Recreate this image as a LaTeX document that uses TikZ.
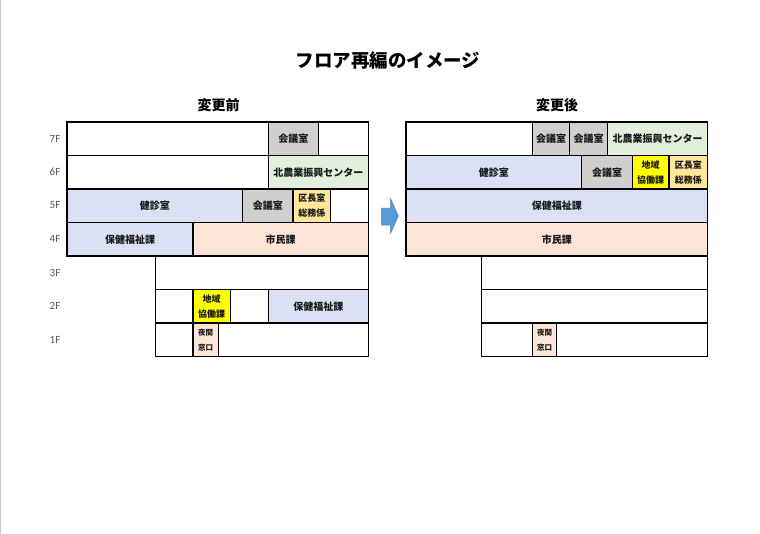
\documentclass[tikz,border=0pt]{standalone}
\usepackage{fontspec}
\newfontfamily\jp{Noto Sans CJK JP}
\newfontfamily\flr{Carlito}
\definecolor{cgray}{HTML}{D0CECE}
\definecolor{cgreen}{HTML}{E2EFDA}
\definecolor{cblue}{HTML}{D9E1F2}
\definecolor{corange}{HTML}{FFE699}
\definecolor{cpink}{HTML}{FCE4D6}
\definecolor{cyellow}{HTML}{FFFF00}
\definecolor{arrowfill}{HTML}{5B9BD5}
\definecolor{arrowline}{HTML}{4A86C0}
\definecolor{floorgray}{HTML}{595959}
\newcommand\fcell[7]{%
  \pgfmathsetmacro\cw{#4-#2}\pgfmathsetmacro\ch{#5-#3}%
  \node[cell,#6,minimum width=\cw pt,minimum height=\ch pt] (#1) at (#2,#3) {#7};}
\begin{document}
\begin{tikzpicture}[x=1pt,y=-1pt,
  cell/.style={draw=black,line width=1.2pt,anchor=north west,inner sep=0pt,outer sep=0pt,
    align=center,font=\jp\bfseries\fontsize{10}{12}\selectfont,text=black!90},
  wcell/.style={fill=white},
  gcell/.style={fill=cgray},
  grcell/.style={fill=cgreen},
  bcell/.style={fill=cblue},
  ocell/.style={fill=corange,font=\jp\bfseries\fontsize{9}{15}\selectfont},
  ycell/.style={fill=cyellow,font=\jp\bfseries\fontsize{9}{15}\selectfont},
  pcell/.style={fill=cpink},
  ncell/.style={fill=cpink,font=\jp\bfseries\fontsize{7.5}{15}\selectfont},
  floor/.style={font=\flr\fontsize{11}{13}\selectfont,text=floorgray},
  heading/.style={font=\jp\bfseries\fontsize{14}{16}\selectfont},
  title/.style={font=\jp\bfseries\fontsize{18.5}{21}\selectfont}]
\useasboundingbox (0,0) rectangle (760,534);
\fill[white] (0,0) rectangle (760,534);
\draw[gray!45,line width=1pt] (0.8,0) -- (0.8,534);
% titles
\node[title] (ttl) at (388,61) {フロア再編のイメージ};
\node[heading] (hbefore) at (218.7,105.5) {変更前};
\node[heading] (hafter) at (557,105.5) {変更後};
% floor labels
\node[floor] (f7) at (55,138.5) {7F};
\node[floor] (f6) at (55,172) {6F};
\node[floor] (f5) at (55,205.5) {5F};
\node[floor] (f4) at (55,239) {4F};
\node[floor] (f3) at (55,272.5) {3F};
\node[floor] (f2) at (55,306) {2F};
\node[floor] (f1) at (55,339.5) {1F};
% ---- before ----
% 7F
\fcell{b7a}{67}{122}{268.3}{155.5}{wcell}{}
\fcell{b7b}{268.3}{122}{318.3}{155.5}{gcell}{会議室}
\fcell{b7c}{318.3}{122}{368.3}{155.5}{wcell}{}
% 6F
\fcell{b6a}{67}{155.5}{268.3}{189}{wcell}{}
\fcell{b6b}{268.3}{155.5}{368.3}{189}{grcell}{北農業振興センター}
% 5F
\fcell{b5a}{67}{189}{242.7}{222.5}{bcell}{健診室}
\fcell{b5b}{242.7}{189}{293}{222.5}{gcell}{会議室}
\fcell{b5c}{293}{189}{330.7}{222.5}{ocell}{区長室\\総務係}
\fcell{b5d}{330.7}{189}{368.3}{222.5}{wcell}{}
% 4F
\fcell{b4a}{67}{222.5}{193}{256}{bcell}{保健福祉課}
\fcell{b4b}{193}{222.5}{368.3}{256}{pcell}{市民課}
% 3F
\fcell{b3a}{155.7}{256}{368.3}{289.5}{wcell}{}
% 2F
\fcell{b2a}{155.7}{289.5}{193}{323}{wcell}{}
\fcell{b2b}{193}{289.5}{230.3}{323}{ycell}{地域\\協働課}
\fcell{b2c}{230.3}{289.5}{268.3}{323}{wcell}{}
\fcell{b2d}{268.3}{289.5}{368.3}{323}{bcell}{保健福祉課}
% 1F
\fcell{b1a}{155.7}{323}{193}{356.5}{wcell}{}
\fcell{b1b}{193}{323}{218.3}{356.5}{ncell}{夜間\\窓口}
\fcell{b1c}{218.3}{323}{368.3}{356.5}{wcell}{}
% ---- arrow ----
\draw[fill=arrowfill,draw=arrowline,line width=0.6pt]
  (381.7,208.3) -- (390.7,208.3) -- (390.7,199) -- (398.3,216) -- (390.7,233)
  -- (390.7,225) -- (381.7,225) -- cycle;
% ---- after ----
% 7F
\fcell{a7a}{406}{122}{532.3}{155.5}{wcell}{}
\fcell{a7b}{532.3}{122}{569.7}{155.5}{gcell}{会議室}
\fcell{a7c}{569.7}{122}{607.3}{155.5}{gcell}{会議室}
\fcell{a7d}{607.3}{122}{707.7}{155.5}{grcell}{北農業振興センター}
% 6F
\fcell{a6a}{406}{155.5}{581.7}{189}{bcell}{健診室}
\fcell{a6b}{581.7}{155.5}{632.3}{189}{gcell}{会議室}
\fcell{a6c}{632.3}{155.5}{669}{189}{ycell}{地域\\協働課}
\fcell{a6d}{669}{155.5}{707.7}{189}{ocell}{区長室\\総務係}
% 5F
\fcell{a5a}{406}{189}{707.7}{222.5}{bcell}{保健福祉課}
% 4F
\fcell{a4a}{406}{222.5}{707.7}{256}{pcell}{市民課}
% 3F
\fcell{a3a}{481.7}{256}{707.7}{289.5}{wcell}{}
% 2F
\fcell{a2a}{481.7}{289.5}{707.7}{323}{wcell}{}
% 1F
\fcell{a1a}{481.7}{323}{532.3}{356.5}{wcell}{}
\fcell{a1b}{532.3}{323}{556.7}{356.5}{ncell}{夜間\\窓口}
\fcell{a1c}{556.7}{323}{707.7}{356.5}{wcell}{}
\end{tikzpicture}
\end{document}
